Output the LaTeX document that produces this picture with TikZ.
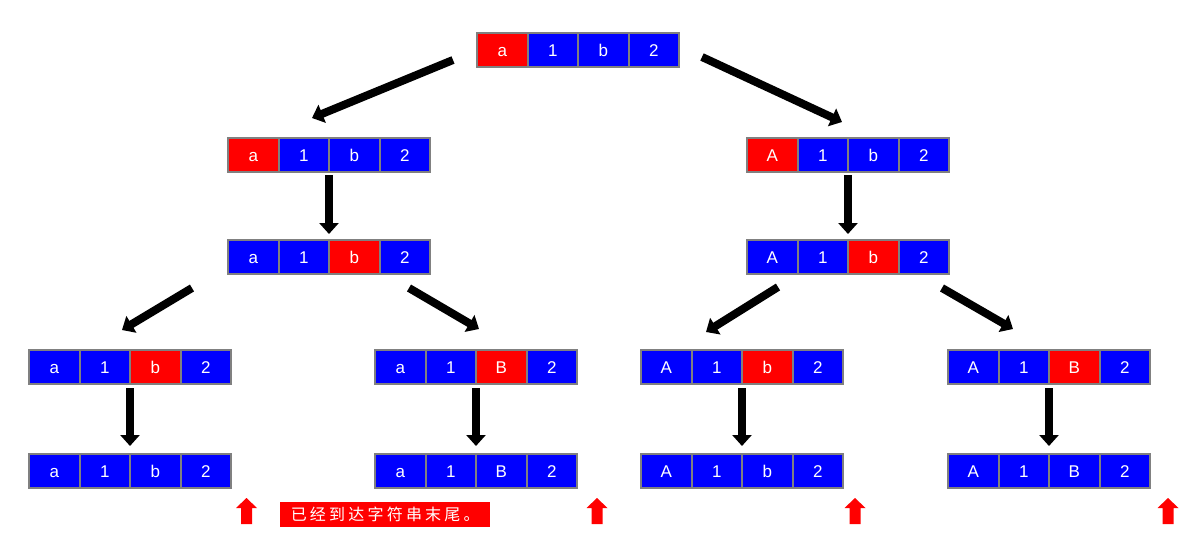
\documentclass[tikz,border=0pt]{standalone}
\usepackage{fontspec}
\setmainfont{Liberation Sans}
\newfontfamily\cjk[LetterSpace=20]{Noto Sans CJK SC}
\usetikzlibrary{calc,arrows.meta}
\definecolor{cblue}{RGB}{0,0,255}
\definecolor{cred}{RGB}{255,0,0}
\definecolor{cgray}{RGB}{128,128,128}
\tikzset{
  cellbox/.style={draw=cgray,line width=2pt,text=white,minimum width=50.5pt,minimum height=34pt,inner sep=0pt,outer sep=0pt,text height=12.2pt,text depth=0pt,font=\fontsize{17}{17}\selectfont,anchor=west},
  bigarrow/.style={line width=8pt,-{Triangle[length=11pt,width=19pt]}},
  uparrow/.style={fill=cred,draw=none},
  msg/.style={fill=cred,text=white,minimum width=210pt,minimum height=25pt,inner sep=0pt,font=\cjk\fontsize{16}{16}\selectfont}
}
\newcommand\mkrow[8]{%
  \edef\fa{\ifnum#8=1 cred\else cblue\fi}%
  \edef\fb{\ifnum#8=2 cred\else cblue\fi}%
  \edef\fc{\ifnum#8=3 cred\else cblue\fi}%
  \edef\fd{\ifnum#8=4 cred\else cblue\fi}%
  \node[cellbox,fill=\fa] (#1-1) at (#2,#3) {#4};
  \node[cellbox,fill=\fb] (#1-2) at (#1-1.east) {#5};
  \node[cellbox,fill=\fc] (#1-3) at (#1-2.east) {#6};
  \node[cellbox,fill=\fd] (#1-4) at (#1-3.east) {#7};
}
\newcommand\redup[1]{%
  \fill[uparrow] ($(#1)+(-5.5,26)$) -- ($(#1)+(-5.5,10)$) -- ($(#1)+(-10.5,10)$) -- ($(#1)+(0,0)$) -- ($(#1)+(10.5,10)$) -- ($(#1)+(5.5,10)$) -- ($(#1)+(5.5,26)$) -- cycle;
}
\begin{document}
\begin{tikzpicture}[x=1pt,y=-1pt]
\useasboundingbox (0,0) rectangle (1192,549);
% rows
\mkrow{T}{477}{50}{a}{1}{b}{2}{1}
\mkrow{L2}{228}{155}{a}{1}{b}{2}{1}
\mkrow{R2}{747}{155}{A}{1}{b}{2}{1}
\mkrow{L3}{228}{257}{a}{1}{b}{2}{3}
\mkrow{R3}{747}{257}{A}{1}{b}{2}{3}
\mkrow{A4}{29}{367}{a}{1}{b}{2}{3}
\mkrow{B4}{375}{367}{a}{1}{B}{2}{3}
\mkrow{C4}{641}{367}{A}{1}{b}{2}{3}
\mkrow{D4}{948}{367}{A}{1}{B}{2}{3}
\mkrow{A5}{29}{471}{a}{1}{b}{2}{0}
\mkrow{B5}{375}{471}{a}{1}{B}{2}{0}
\mkrow{C5}{641}{471}{A}{1}{b}{2}{0}
\mkrow{D5}{948}{471}{A}{1}{B}{2}{0}
% arrows
\draw[bigarrow] ($(T-1.west)+(-24,10)$) -- ($(L2-2.north)+(8.25,-20)$);
\draw[bigarrow] ($(T-4.east)+(23,7)$) -- ($(R2-2.north)+(19.25,-16)$);
\draw[bigarrow] ($(L2-3.south west)+(0,3)$) -- ($(L3-3.north west)+(0,-6)$);
\draw[bigarrow] ($(R2-3.south west)+(0,3)$) -- ($(R3-3.north west)+(0,-6)$);
\draw[bigarrow] ($(L3-1.south west)+(-36,14)$) -- ($(A4-2.north)+(17.25,-20)$);
\draw[bigarrow] ($(L3-4.south west)+(29.5,14)$) -- ($(B4-3.north)+(-22.25,-21)$);
\draw[bigarrow] ($(R3-1.south west)+(31,13)$) -- ($(C4-2.north)+(-10.75,-18)$);
\draw[bigarrow] ($(R3-4.south east)+(-7,14)$) -- ($(D4-2.north)+(-10.75,-21)$);
\draw[bigarrow] ($(A4-3.south west)+(0,4)$) -- ($(A5-3.north west)+(0,-8)$);
\draw[bigarrow] ($(B4-3.south west)+(0,4)$) -- ($(B5-3.north west)+(0,-8)$);
\draw[bigarrow] ($(C4-3.south west)+(0,4)$) -- ($(C5-3.north west)+(0,-8)$);
\draw[bigarrow] ($(D4-3.south west)+(0,4)$) -- ($(D5-3.north west)+(0,-8)$);
% red up arrows
\coordinate (u1) at (246.5,498);
\coordinate (u2) at (597,498);
\coordinate (u3) at (855,498);
\coordinate (u4) at (1168,498);
\redup{u1}\redup{u2}\redup{u3}\redup{u4}
% message
\node[msg,anchor=west] (msg) at (280,514.5) {已经到达字符串末尾。};
\end{tikzpicture}
\end{document}
